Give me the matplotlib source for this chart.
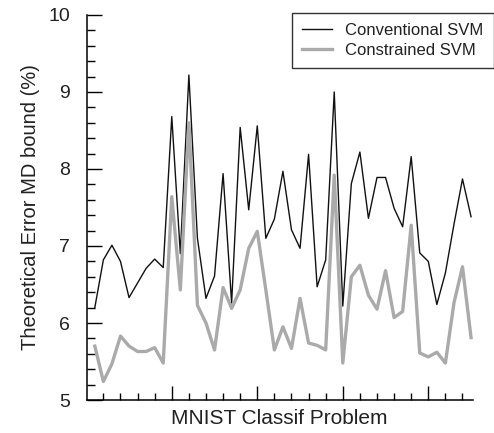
import matplotlib
matplotlib.use("Agg")
import matplotlib.pyplot as plt
import numpy as np

# values, one per MNIST classification problem
problems = list(range(1, 46))
conventional_svm = [
    6.20, 6.82, 7.01, 6.80, 6.33, 6.52, 6.71, 6.83, 6.72, 8.68,
    6.90, 9.22, 7.10, 6.32, 6.61, 7.94, 6.26, 8.54, 7.47, 8.56,
    7.10, 7.35, 7.97, 7.21, 6.97, 8.19, 6.47, 6.82, 9.00, 6.22,
    7.81, 8.22, 7.36, 7.89, 7.89, 7.49, 7.25, 8.16, 6.91, 6.80,
    6.24, 6.65, 7.28, 7.87, 7.38,
]
constrained_svm = [
    5.70, 5.24, 5.47, 5.83, 5.70, 5.63, 5.63, 5.68, 5.48, 7.64,
    6.43, 8.60, 6.23, 6.00, 5.65, 6.46, 6.19, 6.43, 6.97, 7.19,
    6.43, 5.65, 5.95, 5.67, 6.32, 5.74, 5.71, 5.65, 7.92, 5.48,
    6.60, 6.75, 6.36, 6.18, 6.68, 6.07, 6.15, 7.27, 5.61, 5.56,
    5.62, 5.48, 6.26, 6.73, 5.81,
]
series_labels = ["Conventional SVM", "Constrained SVM"]
y_ticks = [5, 6, 7, 8, 9, 10]

plt.rcParams["font.family"] = ["Liberation Sans", "DejaVu Sans"]

fig = plt.figure(figsize=(4.94, 4.33), dpi=100)
ax = fig.add_axes([0.1755, 0.0762, 0.7815, 0.8892])

ax.plot(problems, conventional_svm, color="#111111", linewidth=1.0, label=series_labels[0])
ax.plot(problems, constrained_svm, color="#aaaaaa", linewidth=2.4, label=series_labels[1])

ax.set_xlim(0.05, 45.2)
ax.set_ylim(5, 10)

ax.spines["top"].set_visible(False)
ax.spines["right"].set_visible(False)
for side in ("left", "bottom"):
    ax.spines[side].set_linewidth(1.1)

ax.set_yticks(y_ticks)
ax.set_yticks(np.arange(5, 10.01, 0.2), minor=True)
ax.set_xticks([10, 20, 30, 40])
ax.set_xticks([x for x in range(2, 45, 2) if x % 10 != 0], minor=True)
ax.set_xticklabels([])
ax.tick_params(axis="both", which="both", direction="in", color="black", width=1.0)
ax.tick_params(axis="y", which="major", length=11, labelsize=14, labelcolor="#222222", pad=12)
ax.tick_params(axis="y", which="minor", length=6)
ax.tick_params(axis="x", which="major", length=10)
ax.tick_params(axis="x", which="minor", length=5)

ax.set_xlabel("MNIST Classif Problem", fontsize=15, color="#222222", labelpad=3)
ax.set_ylabel("Theoretical Error MD bound (%)", fontsize=14.5, color="#222222", labelpad=6)

handles, labels = ax.get_legend_handles_labels()
leg = fig.legend(handles, labels, loc="upper right", bbox_to_anchor=(0.999, 0.97),
                 fontsize=12, frameon=True, fancybox=False, edgecolor="black",
                 handlelength=1.8, labelspacing=0.3, borderpad=0.6, borderaxespad=0)
leg.get_frame().set_linewidth(1.0)
for text in leg.get_texts():
    text.set_color("#222222")

fig.savefig("out.png", dpi=100)
